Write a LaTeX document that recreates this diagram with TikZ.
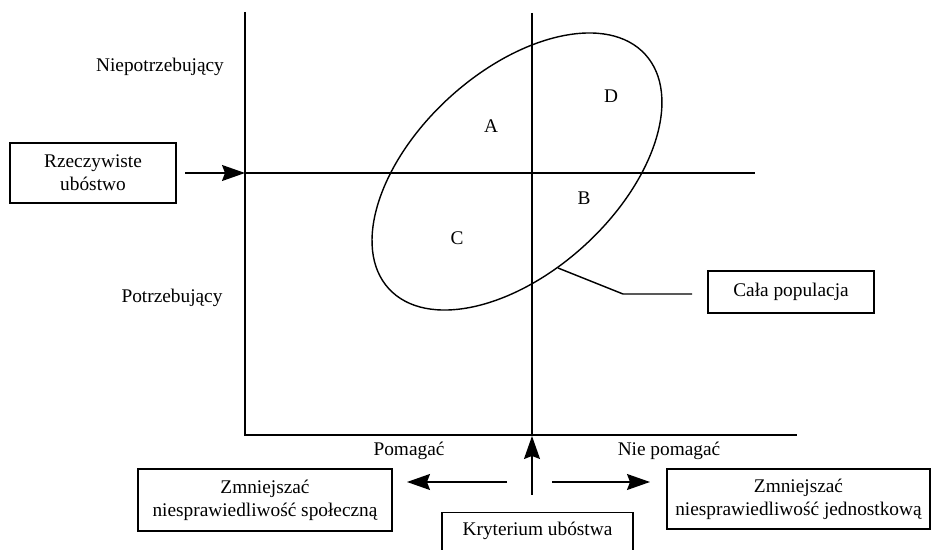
\documentclass[tikz,border=0pt]{standalone}
\usepackage{fontspec}
\setmainfont{Liberation Serif}
\usetikzlibrary{arrows.meta}

\tikzset{
    box/.style={draw, line width=0.8pt, align=center, inner sep=0pt, font=\fontsize{11}{13}\selectfont},
    lbl/.style={inner sep=0pt, font=\fontsize{11}{13}\selectfont},
    ln/.style={line width=0.8pt},
    arr/.style={line width=0.8pt, -{Stealth[length=4.6mm,width=3.2mm,inset=0.6mm]}},
}

\begin{document}
\begin{tikzpicture}[x=0.02cm, y=-0.02cm]
        \useasboundingbox (0,0) rectangle (931,550);

        % axes and dividing lines
        \coordinate (O) at (245,435);
        \coordinate (Otop) at (245,12);
        \coordinate (Xend) at (797,435);
        \coordinate (pov) at (245,173);
        \coordinate (povEnd) at (755,173);
        \coordinate (crit) at (532,435);
        \coordinate (critTop) at (532,13);
        \coordinate (ctr) at (517,171.5);

        \draw[ln] (Otop) -- (O) -- (Xend);
        \draw[ln] (pov) -- (povEnd);
        \draw[ln] (critTop) -- (crit);

        % population ellipse
        \draw[ln, rotate around={42.4:(ctr)}] (ctr) ellipse [x radius=3.474cm, y radius=2.004cm];

        \node[lbl] (A) at (491,126) {A};
        \node[lbl] (D) at (611,96) {D};
        \node[lbl] (B) at (584,198) {B};
        \node[lbl] (C) at (457,238) {C};

        \node[lbl] (niepot) at (160,67) {Niepotrzebujący};
        \node[lbl] (pot) at (172,298) {Potrzebujący};
        \node[lbl] (pom) at (409,451) {Pomagać};
        \node[lbl] (niepom) at (669,451) {Nie pomagać};

        % boxes
        \node[box, minimum width=3.32cm, minimum height=1.2cm] (rzecz) at (93,173) {Rzeczywiste\\ubóstwo};
        \node[box, minimum width=3.32cm, minimum height=0.84cm] (cala) at (791,292) {Cała populacja};
        \node[box, minimum width=5.08cm, minimum height=1.24cm] (spol) at (265,500) {Zmniejszać\\niesprawiedliwość społeczną};
        \node[box, minimum width=5.26cm, minimum height=1.2cm] (jedn) at (798.5,499) {Zmniejszać\\niesprawiedliwość jednostkową};
        \node[box, anchor=north, minimum width=3.82cm, inner ysep=4pt, text height=9pt, text depth=20pt] (kryt) at (537.5,512) {Kryterium ubóstwa};

        % connectors
        \coordinate (rzTail) at (185,173);
        \coordinate (ktTail) at (532,495);
        \coordinate (ktTip) at (532,436);
        \coordinate (lTail) at (507,482);
        \coordinate (lTip) at (407,482);
        \coordinate (rTail) at (552,482);
        \coordinate (rTip) at (650,482);
        \coordinate (elPt) at (558,268);
        \coordinate (bend) at (623,294);
        \coordinate (calaEnd) at (692,294);

        \draw[arr] (rzTail) -- (pov);
        \draw[arr] (ktTail) -- (ktTip);
        \draw[arr] (lTail) -- (lTip);
        \draw[arr] (rTail) -- (rTip);
        \draw[ln] (elPt) -- (bend) -- (calaEnd);

\end{tikzpicture}
\end{document}
